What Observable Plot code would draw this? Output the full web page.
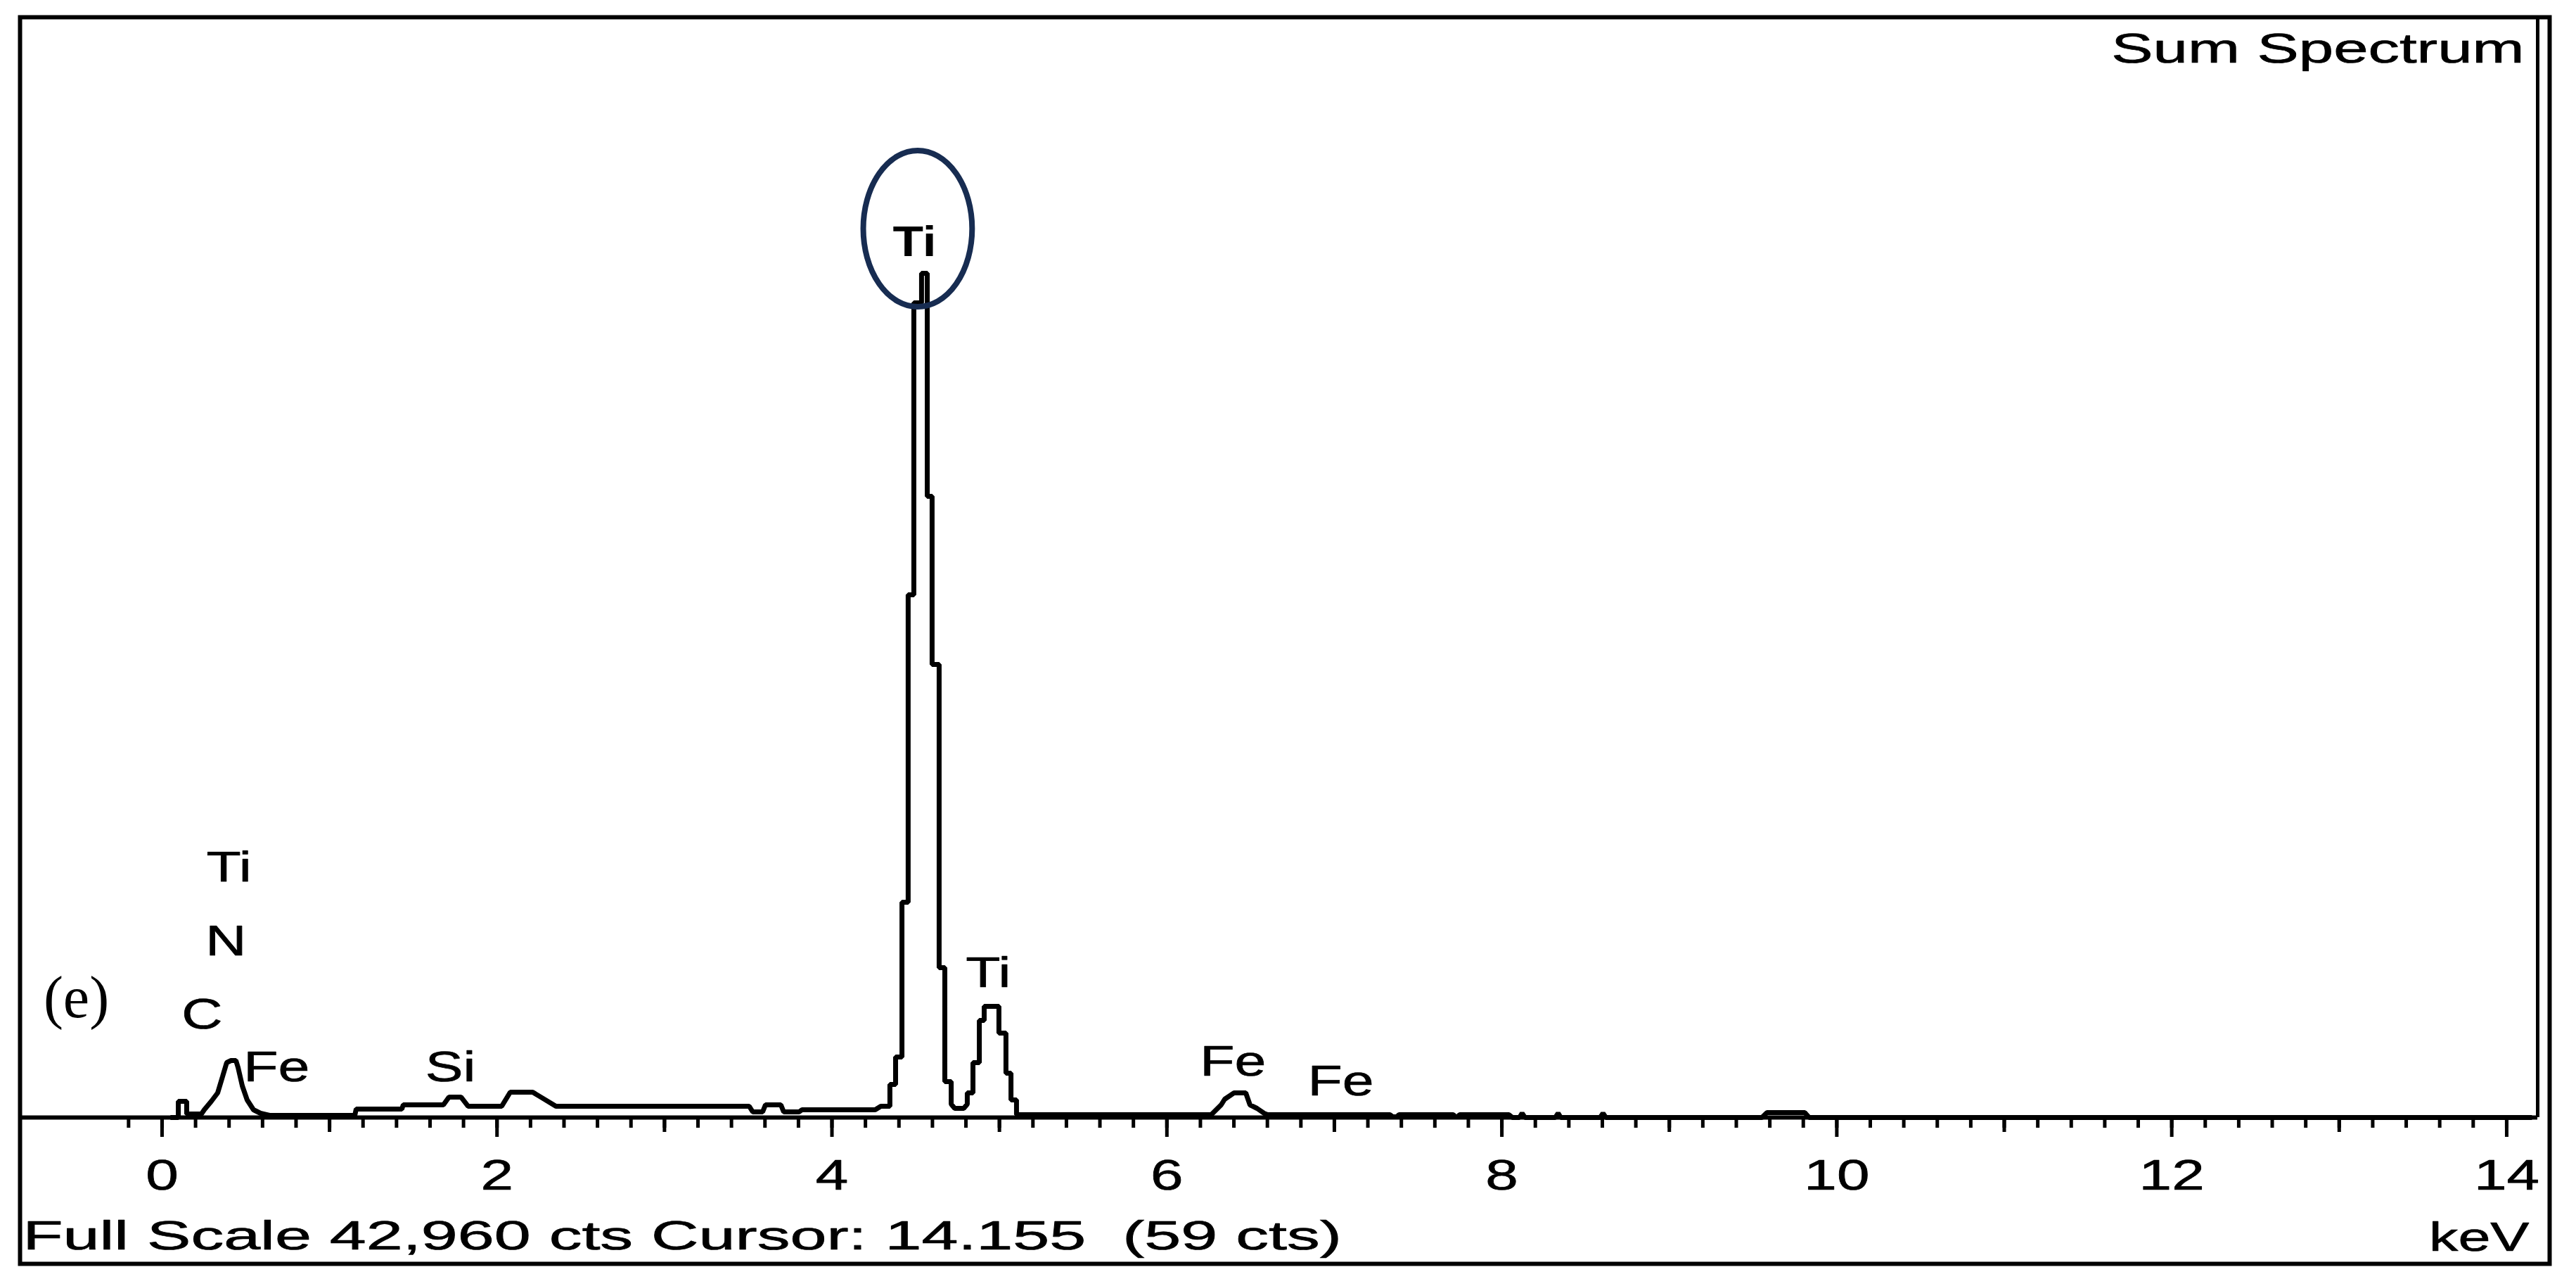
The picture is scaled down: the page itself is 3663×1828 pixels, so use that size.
<!DOCTYPE html>
<html>
<head>
<meta charset="utf-8">
<script src="https://cdn.jsdelivr.net/npm/d3@7"></script>
<script src="https://cdn.jsdelivr.net/npm/@observablehq/plot@0.6"></script>
<style>
  html, body { margin: 0; padding: 0; background: #fff; }
  svg { display: block; }
  .footer text, text.footer { white-space: pre; }
</style>
</head>
<body>
<div id="chart"></div>
<script>
// ---- Spectrum (energy in keV, intensity in counts) ----
const energyKeV = [
  0.050, 0.097, 0.097, 0.147, 0.147, 0.235, 0.252, 0.294, 0.332, 0.361,
  0.386, 0.412, 0.441, 0.454, 0.479, 0.508, 0.546, 0.588, 0.642, 1.151,
  1.159, 1.432, 1.440, 1.680, 1.713, 1.785, 1.827, 2.028, 2.079, 2.213,
  2.352, 3.506, 3.527, 3.586, 3.603, 3.695, 3.712, 3.804, 3.821, 4.258,
  4.292, 4.346, 4.346, 4.380, 4.380, 4.418, 4.418, 4.455, 4.455, 4.489,
  4.489, 4.535, 4.535, 4.569, 4.569, 4.598, 4.598, 4.640, 4.640, 4.674,
  4.674, 4.712, 4.712, 4.733, 4.787, 4.808, 4.808, 4.842, 4.842, 4.880,
  4.880, 4.909, 4.909, 4.997, 4.997, 5.039, 5.039, 5.069, 5.069, 5.102,
  5.102, 6.265, 6.324, 6.345, 6.400, 6.471, 6.496, 6.538, 6.580, 6.601,
  7.332, 7.349, 7.374, 7.386, 7.710, 7.723, 7.735, 7.748, 8.042, 8.063,
  8.105, 8.121, 8.138, 8.319, 8.336, 8.352, 8.587, 8.604, 8.621, 9.553,
  9.583, 9.809, 9.835, 14.151
];
const counts = [
  0, 0, 632, 632, 137, 137, 302, 632, 961, 1593,
  2142, 2225, 2225, 1950, 1236, 687, 302, 165, 82, 82,
  330, 330, 494, 494, 797, 797, 440, 440, 989, 989,
  440, 440, 220, 220, 494, 494, 220, 220, 302, 302,
  440, 440, 1291, 1291, 2362, 2362, 8405, 8405, 20409, 20409,
  31808, 31808, 32962, 32962, 24254, 24254, 17689, 17689, 5851, 5851,
  1401, 1401, 522, 357, 357, 522, 961, 961, 2142, 2142,
  3791, 3791, 4340, 4340, 3296, 3296, 1730, 1730, 687, 687,
  110, 110, 494, 714, 961, 961, 494, 357, 165, 110,
  110, 27, 27, 110, 110, 27, 27, 110, 110, 0,
  0, 165, 0, 0, 165, 0, 0, 165, 0, 0,
  192, 192, 0, 0
];

// ---- Axis ----
const fullScaleCts = 42960;
const xDomain = [-0.848, 14.185];
const majorTicks = [0, 2, 4, 6, 8, 10, 12, 14];
const majorTickLabels = ["0", "2", "4", "6", "8", "10", "12", "14"];
const midTicks = [1, 3, 5, 7, 9, 11, 13];
const minorTicks = d3.range(-1, 71).map(i => i / 5); // every 0.2 keV from -0.2 to 14.0

// ---- Peak labels (keV, counts) ----
const peakLabelText = ["Ti", "N", "C", "Fe", "Si", "Ti", "Fe", "Fe"];
const peakLabelKeV  = [0.399, 0.382, 0.239, 0.684, 1.722, 4.934, 6.395, 7.038];
const peakLabelCts  = [9202, 6345, 3461, 1401, 1401, 5082, 1648, 852];
const mainLabelText = ["Ti"];
const mainLabelKeV  = [4.493];
const mainLabelCts  = [33648];

// ---- Highlight ellipse around main Ti peak (keV, counts) ----
const ellipseCenter = [4.514, 34692];
const ellipseRadius = [0.325, 3049];

// ---- Texts ----
const headerText = ["Sum Spectrum"];
const footerText = ["Full Scale 42,960 cts Cursor: 14.155  (59 cts)"];
const unitText = ["keV"];
const panelText = ["(e)"];

const spectrum = energyKeV.map((e, i) => ({e, c: counts[i]}));
const peakLabels = peakLabelText.map((t, i) => ({t, e: peakLabelKeV[i], c: peakLabelCts[i]}));
const mainLabels = mainLabelText.map((t, i) => ({t, e: mainLabelKeV[i], c: mainLabelCts[i]}));

const W = 3663, H = 1828;
const mL = 28, mR = 55, mT = 24, mB = 240;

function ellipseMark(index, scales, values, dimensions) {
  let sx = scales && typeof scales.x === "function" ? scales.x : null;
  let sy = scales && typeof scales.y === "function" ? scales.y : null;
  if (!sx) sx = d3.scaleLinear(xDomain, [mL, W - mR]);
  if (!sy) sy = d3.scaleLinear([0, fullScaleCts], [H - mB, mT]);
  const cx = sx(ellipseCenter[0]), cy = sy(ellipseCenter[1]);
  const rx = Math.abs(sx(ellipseCenter[0] + ellipseRadius[0]) - cx);
  const ry = Math.abs(sy(ellipseCenter[1] + ellipseRadius[1]) - cy);
  const el = document.createElementNS("http://www.w3.org/2000/svg", "ellipse");
  el.setAttribute("cx", cx); el.setAttribute("cy", cy);
  el.setAttribute("rx", rx); el.setAttribute("ry", ry);
  el.setAttribute("fill", "none");
  el.setAttribute("stroke", "#172c51");
  el.setAttribute("stroke-width", 8);
  return el;
}

const sans = "Liberation Sans, Arial, sans-serif";
const ink = {fill: "#000", stroke: "#000", strokeWidth: 0.7};

const svg = Plot.plot({
  width: W,
  height: H,
  marginLeft: mL,
  marginRight: mR,
  marginTop: mT,
  marginBottom: mB,
  style: {background: "#fff", fontFamily: sans, color: "#000"},
  x: {domain: xDomain, label: null},
  y: {domain: [0, fullScaleCts], axis: null},
  marks: [
    Plot.frame({stroke: "#000", strokeWidth: 6, insetRight: -17, insetBottom: -208}),
    Plot.ruleX([xDomain[1]], {stroke: "#000", strokeWidth: 5}),
    Plot.axisX({ticks: minorTicks, tickSize: 15, strokeWidth: 5, tickFormat: () => "", anchor: "bottom"}),
    Plot.axisX({ticks: midTicks, tickSize: 21, strokeWidth: 5, tickFormat: () => "", anchor: "bottom"}),
    Plot.axisX({ticks: majorTicks, tickSize: 28, strokeWidth: 5, tickFormat: () => "", anchor: "bottom"}),
    Plot.ruleY([0], {stroke: "#000", strokeWidth: 6}),
    Plot.line(spectrum, {x: "e", y: "c", stroke: "#000", strokeWidth: 7, strokeLinejoin: "miter", strokeLinecap: "butt"}),
    Plot.text(majorTicks, {x: d => d, text: (d, i) => majorTickLabels[i], frameAnchor: "bottom", dy: 102,
      lineAnchor: "bottom", textAnchor: "middle", fontSize: 62, fontFamily: sans, ...ink,
      className: "ticklabels"}),
    Plot.text(peakLabels, {x: "e", y: "c", text: "t", lineAnchor: "bottom", textAnchor: "middle",
      fontSize: 62, fontFamily: sans, ...ink, className: "peaklabels"}),
    Plot.text(mainLabels, {x: "e", y: "c", text: "t", lineAnchor: "bottom", textAnchor: "middle",
      fontSize: 62, fontWeight: "bold", fontFamily: sans, fill: "#000", className: "mainlabel"}),
    ellipseMark,
    Plot.text(headerText, {text: d => d, frameAnchor: "top-right", dx: -19, dy: 64, textAnchor: "end",
      lineAnchor: "bottom", fontSize: 60, fontFamily: sans, ...ink, className: "header"}),
    Plot.text(footerText, {text: d => d, frameAnchor: "bottom-left", dx: 4, dy: 187, textAnchor: "start",
      lineAnchor: "bottom", fontSize: 57, fontFamily: sans, ...ink, className: "footer"}),
    Plot.text(unitText, {text: d => d, frameAnchor: "bottom-right", dx: -12, dy: 189, textAnchor: "end",
      lineAnchor: "bottom", fontSize: 57, fontFamily: sans, ...ink, className: "unit"}),
    Plot.text(panelText, {text: d => d, frameAnchor: "bottom-left", dx: 80, dy: -143, textAnchor: "middle",
      lineAnchor: "bottom", fontSize: 84, fontFamily: "Liberation Serif, Times New Roman, serif", fill: "#000"})
  ]
});

document.getElementById("chart").append(svg);

// The original screenshot's UI font is horizontally wide; widen glyphs around their anchor.
function stretch(name, f) {
  const els = new Set([
    ...svg.querySelectorAll(`.${name} text`),
    ...svg.querySelectorAll(`text.${name}`)
  ]);
  els.forEach(t => {
    const tr = t.getAttribute("transform") || "";
    const xa = parseFloat(t.getAttribute("x"));
    const shift = isFinite(xa) ? ` translate(${xa},0)` : "";
    if (isFinite(xa)) t.setAttribute("x", 0);
    t.setAttribute("transform", `${tr}${shift} scale(${f},1)`.trim());
    if (name === "footer") t.style.whiteSpace = "pre";
  });
}
stretch("ticklabels", 1.35);
stretch("peaklabels", 1.3);
stretch("mainlabel", 1.15);
stretch("header", 1.48);
stretch("footer", 1.64);
stretch("unit", 1.45);
</script>
</body>
</html>
